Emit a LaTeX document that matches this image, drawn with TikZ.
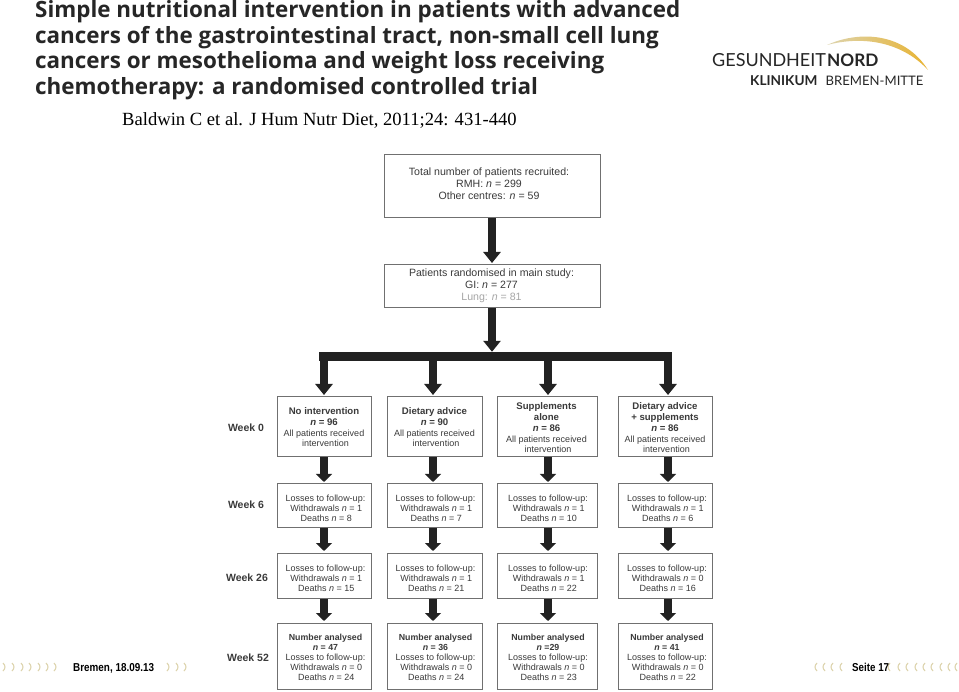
\documentclass[tikz,border=0pt]{standalone}
\usepackage{graphicx}
\usepackage{fontspec}
\setmainfont{Liberation Sans}
\newfontfamily\titlefont{Open Sans}
\newfontfamily\serfont{Liberation Serif}
\newfontfamily\logofont{Lato}
\usetikzlibrary{arrows.meta}
\definecolor{boxline}{HTML}{707070}
\definecolor{ink}{HTML}{3A3A3A}
\definecolor{arrowink}{HTML}{222222}
\definecolor{chev}{HTML}{DDD4AE}
\definecolor{gold}{HTML}{E8B331}
\tikzset{
  x=1pt,y=-1pt,
  flowbox/.style={draw=boxline,line width=1pt,fill=white,inner sep=0pt},
  flowtext/.style={text=ink,align=center,inner sep=0pt,font=\fontsize{9}{10}\selectfont},
  toptext/.style={text=ink,align=center,inner sep=0pt,font=\fontsize{10.6}{12}\selectfont},
  weeklabel/.style={text=ink,inner sep=0pt,font=\fontsize{10.5}{12}\selectfont\bfseries},
  bigarrow/.style={draw=arrowink,line width=8.5pt,-{Triangle[width=17pt,length=11pt]},shorten >=1.5pt},
  midarrow/.style={draw=arrowink,line width=8pt,-{Triangle[width=16pt,length=8pt]},shorten >=1.5pt},
  titleline/.style={anchor=base west,inner sep=0pt,text=black!85,font=\fontsize{22.4}{24}\selectfont\titlefont\bfseries},
  foot/.style={inner sep=0pt,font=\fontsize{11.5}{13}\selectfont\bfseries},
  chevl/.style={draw=chev,line width=1.1pt},
}
\newcommand{\fbx}[5]{% name x1 y1 x2 y2
  \node[flowbox,minimum width={(#4)-(#2)},minimum height={(#5)-(#3)}] (#1) at ({((#2)+(#4))/2},{((#3)+(#5))/2}) {};
}
\newcommand{\wksix}[2]{Losses to follow-up:\\\hspace*{1.5pt}Withdrawals \textit{n} = #1\\\hspace*{1.5pt}Deaths \textit{n} = #2}
\newcommand{\wkend}[3]{{\fontsize{8.8}{10}\selectfont\textbf{Number analysed}}\\{\fontsize{8.8}{10}\selectfont\textbf{\textit{n} #1}}\\Losses to follow-up:\\\hspace*{1.5pt}Withdrawals \textit{n} = #2\\\hspace*{1.5pt}Deaths \textit{n} = #3}
\begin{document}
\begin{tikzpicture}
\useasboundingbox (0,0) rectangle (959,692);
\fill[white] (0,0) rectangle (959,692);

% title
\node[titleline] (t1) at (35,18) {Simple nutritional intervention in patients with advanced};
\node[titleline] (t2) at (35,43.5) {cancers of the gastrointestinal tract, non-small cell lung};
\node[titleline] (t3) at (35,69) {cancers or mesothelioma and weight loss receiving};
\node[titleline] (t4) at (35,94.5) {chemotherapy: a randomised controlled trial};
\node[anchor=base west,inner sep=0pt,font=\fontsize{18.6}{20}\selectfont\serfont] (cite) at (122,125.5) {Baldwin C et al. J Hum Nutr Diet, 2011;24: 431-440};

% logo
\shade[left color=chev,right color=gold] (827,45) .. controls (860,30) and (905,33) .. (928,70) .. controls (903,43) and (865,35) .. (827,45) -- cycle;
\node[anchor=base west,inner sep=0pt,text=black!85,font=\fontsize{18}{20}\selectfont\logofont] (lg1) at (712,67) {GESUNDHEIT};
\node[anchor=base west,inner sep=0pt,text=black!85,font=\fontsize{17.2}{20}\selectfont\logofont\bfseries] (lg2) at (827,67) {NORD};
\node[anchor=base west,inner sep=0pt,text=black!85,font=\fontsize{13.6}{15}\selectfont\logofont\bfseries] (lg3) at (750,86) {KLINIKUM};
\node[anchor=base west,inner sep=0pt,text=black!85,font=\fontsize{13.1}{15}\selectfont\logofont] (lg4) at (825.5,86) {BREMEN-MITTE};

% column axes
\coordinate (c0) at (492,0);
\coordinate (c1) at (324,0);
\coordinate (c2) at (433,0);
\coordinate (c3) at (548,0);
\coordinate (c4) at (668,0);

% top boxes
\fbx{top}{384}{155}{600}{218}
\fbx{rand}{384}{265}{600}{308}
\node[toptext] (topt) at (489,184) {Total number of patients recruited:\\RMH: \textit{n} = 299\\Other centres: \textit{n} = 59};
\node[toptext] (randt) at (491.5,286) {Patients randomised in main study:\\GI: \textit{n} = 277\\\textcolor{black!35}{Lung: \textit{n} = 81}};

% bar
\node[fill=arrowink,inner sep=0pt,minimum width=353pt,minimum height=9pt] (bar) at (495.5,356.5) {};
\draw[bigarrow] (c0 |- top.south) -- (c0 |- rand.north);
\draw[bigarrow,shorten >=0pt] (c0 |- rand.south) -- (c0 |- bar.north);

% rows
\foreach \nm/\xa/\xb in {1/277/371,2/387/482,3/497/597,4/618/712}{
  \fbx{a\nm}{\xa}{397}{\xb}{457}
  \fbx{b\nm}{\xa}{484}{\xb}{527}
  \fbx{d\nm}{\xa}{553}{\xb}{598}
  \fbx{e\nm}{\xa}{623}{\xb}{689}
}

% week 0 texts
\node[flowtext] (at1) at (324,427.5) {\textbf{\fontsize{9.6}{11}\selectfont No intervention}\\[1pt]\textbf{\fontsize{9.6}{11}\selectfont\textit{n} = 96}\\[1pt]All patients received\\\hspace*{3pt}intervention};
\node[flowtext] (at2) at (434.5,427.5) {\textbf{\fontsize{9.6}{11}\selectfont Dietary advice}\\[1pt]\textbf{\fontsize{9.6}{11}\selectfont\textit{n} = 90}\\[1pt]All patients received\\\hspace*{3pt}intervention};
\node[flowtext] (at3) at (546.5,428) {\textbf{\fontsize{9.6}{11}\selectfont Supplements}\\[1pt]\textbf{\fontsize{9.6}{11}\selectfont alone}\\[1pt]\textbf{\fontsize{9.6}{11}\selectfont\textit{n} = 86}\\[1pt]All patients received\\\hspace*{3pt}intervention};
\node[flowtext] (at4) at (665,428) {\textbf{\fontsize{9.6}{11}\selectfont Dietary advice}\\[1pt]\textbf{\fontsize{9.6}{11}\selectfont + supplements}\\[1pt]\textbf{\fontsize{9.6}{11}\selectfont\textit{n} = 86}\\[1pt]All patients received\\\hspace*{3pt}intervention};

% week 6
\node[flowtext] (bt1) at (325.5,508) {\wksix{1}{8}};
\node[flowtext] (bt2) at (435.5,508) {\wksix{1}{7}};
\node[flowtext] (bt3) at (548,508) {\wksix{1}{10}};
\node[flowtext] (bt4) at (667,508) {\wksix{1}{6}};
% week 26
\node[flowtext] (dt1) at (325.5,578) {\wksix{1}{15}};
\node[flowtext] (dt2) at (435.5,578) {\wksix{1}{21}};
\node[flowtext] (dt3) at (548,578) {\wksix{1}{22}};
\node[flowtext] (dt4) at (667,578) {\wksix{0}{16}};
% week 52
\node[flowtext] (et1) at (325.5,657) {\wkend{= 47}{0}{24}};
\node[flowtext] (et2) at (435.5,657) {\wkend{= 36}{0}{24}};
\node[flowtext] (et3) at (548,657) {\wkend{=29}{0}{23}};
\node[flowtext] (et4) at (667,657) {\wkend{= 41}{0}{22}};

% arrows per column
\foreach \nm in {1,2,3,4}{
  \draw[bigarrow] (c\nm |- bar.south) -- (c\nm |- a\nm.north);
  \draw[midarrow] (c\nm |- a\nm.south) -- (c\nm |- b\nm.north);
  \draw[midarrow] (c\nm |- b\nm.south) -- (c\nm |- d\nm.north);
  \draw[midarrow] (c\nm |- d\nm.south) -- (c\nm |- e\nm.north);
}

% week labels
\node[weeklabel] (w0) at (246,428) {Week 0};
\node[weeklabel] (w6) at (246,505) {Week 6};
\node[weeklabel] (w26) at (247,578) {Week 26};
\node[weeklabel] (w52) at (248,658) {Week 52};

% footer
\foreach \cx in {3,12,21,29,38,46,54,167,176,184}
  \draw[chevl] (\cx,663) .. controls (\cx+2.6,665.5) and (\cx+2.6,668.5) .. (\cx,671);
\foreach \cx in {817,825,833,842,890,900,908,917,925,933,942,950,957}
  \draw[chevl] (\cx,663) .. controls (\cx-2.6,665.5) and (\cx-2.6,668.5) .. (\cx,671);
\node[foot,anchor=base west] (fl) at (73,671) {\scalebox{0.86}[1]{Bremen, 18.09.13}};
\node[foot,anchor=base west] (fr) at (852,671) {\scalebox{0.85}[1]{Seite 17}};
\end{tikzpicture}
\end{document}
